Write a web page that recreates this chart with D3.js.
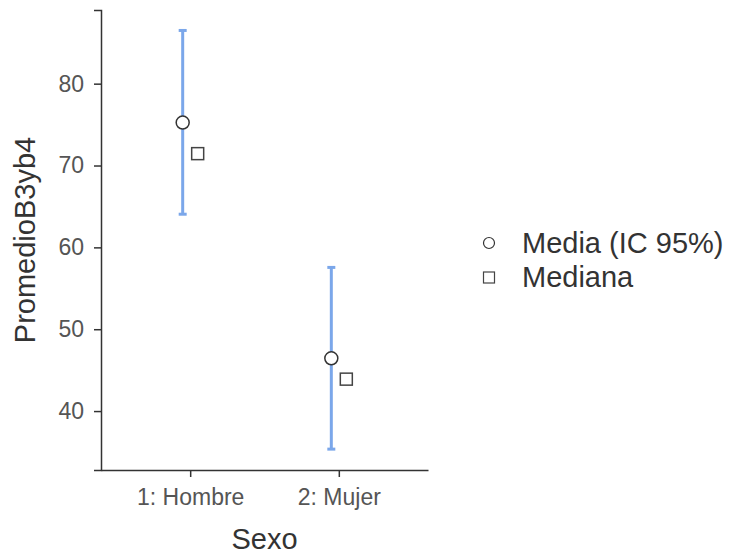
<!DOCTYPE html>
<html>
<head>
<meta charset="utf-8">
<script src="https://cdn.jsdelivr.net/npm/d3@7"></script>
<style>
  body { margin: 0; background: #fff; }
  text { font-family: "Liberation Sans", Arial, sans-serif; }
</style>
</head>
<body>
<script>
var w = 736, h = 554;

// data
var categories = ["1: Hombre", "2: Mujer"];
var means = [75.25, 46.45];
var lower = [64.05, 35.35];
var upper = [86.5, 57.55];
var medians = [71.45, 43.9];
var yTicks = [40, 50, 60, 70, 80];

var margin = {top: 10, left: 101},
    plotW = 327,
    plotH = 460;

var svg = d3.select("body").append("svg")
    .attr("width", w)
    .attr("height", h);

var chart = svg.append("g")
    .attr("transform", "translate(" + margin.left + "," + margin.top + ")");

var x = d3.scalePoint()
    .domain(categories)
    .range([0, plotW])
    .padding(0.6);

var y = d3.scaleLinear()
    .domain([32.8, 89])
    .range([plotH, 0]);

// y axis
var yAxis = chart.append("g")
    .call(d3.axisLeft(y).tickValues(yTicks).tickSize(7).tickPadding(10));
yAxis.select(".domain").attr("stroke", "#333").attr("stroke-width", 1.5);
yAxis.selectAll(".tick line").attr("stroke", "#333").attr("stroke-width", 1.5);
yAxis.selectAll(".tick text")
    .attr("fill", "#555")
    .style("font-size", "23px");

// x axis
var xAxis = chart.append("g")
    .attr("transform", "translate(0," + plotH + ")")
    .call(d3.axisBottom(x).tickSize(7).tickPadding(12).tickSizeOuter(0));
xAxis.select(".domain").attr("stroke", "#333").attr("stroke-width", 1.5);
xAxis.selectAll(".tick line").attr("stroke", "#333").attr("stroke-width", 1.5);
xAxis.selectAll(".tick text")
    .attr("fill", "#555")
    .style("font-size", "23px");

var rows = categories.map(function(c, i) {
  return {cat: c, mean: means[i], lo: lower[i], hi: upper[i], med: medians[i]};
});

var grp = chart.selectAll(".grp")
    .data(rows)
    .enter().append("g")
    .attr("class", "grp");

var off = 7.5;

// error bars
grp.append("line")
    .attr("x1", function(d) { return x(d.cat) - off; })
    .attr("x2", function(d) { return x(d.cat) - off; })
    .attr("y1", function(d) { return y(d.lo); })
    .attr("y2", function(d) { return y(d.hi); })
    .attr("stroke", "#7ba7ea")
    .attr("stroke-width", 3);

grp.selectAll(".cap")
    .data(function(d) { return [d.lo, d.hi].map(function(v) { return {cat: d.cat, v: v}; }); })
    .enter().append("line")
    .attr("class", "cap")
    .attr("x1", function(d) { return x(d.cat) - off - 4; })
    .attr("x2", function(d) { return x(d.cat) - off + 4; })
    .attr("y1", function(d) { return y(d.v); })
    .attr("y2", function(d) { return y(d.v); })
    .attr("stroke", "#7ba7ea")
    .attr("stroke-width", 3);

// means
grp.append("circle")
    .attr("cx", function(d) { return x(d.cat) - off; })
    .attr("cy", function(d) { return y(d.mean); })
    .attr("r", 6.5)
    .attr("fill", "#fff")
    .attr("stroke", "#333")
    .attr("stroke-width", 1.5);

// medians
grp.append("rect")
    .attr("x", function(d) { return x(d.cat) + off - 6; })
    .attr("y", function(d) { return y(d.med) - 6; })
    .attr("width", 12)
    .attr("height", 12)
    .attr("fill", "#fff")
    .attr("stroke", "#444")
    .attr("stroke-width", 1.5);

// axis titles
svg.append("text")
    .attr("x", margin.left + plotW / 2)
    .attr("y", 549)
    .attr("text-anchor", "middle")
    .attr("fill", "#333")
    .style("font-size", "29px")
    .text("Sexo");

svg.append("text")
    .attr("transform", "translate(35," + (margin.top + plotH / 2) + ") rotate(-90)")
    .attr("text-anchor", "middle")
    .attr("fill", "#333")
    .style("font-size", "29px")
    .text("PromedioB3yb4");

// legend
var legend = svg.append("g").attr("transform", "translate(489,243)");
legend.append("circle")
    .attr("r", 5.5)
    .attr("fill", "#fff")
    .attr("stroke", "#333")
    .attr("stroke-width", 1.2);
legend.append("text")
    .attr("x", 33)
    .attr("y", 10)
    .attr("fill", "#333")
    .style("font-size", "29px")
    .text("Media (IC 95%)");
legend.append("rect")
    .attr("x", -5.5)
    .attr("y", 29)
    .attr("width", 11)
    .attr("height", 11)
    .attr("fill", "#fff")
    .attr("stroke", "#444")
    .attr("stroke-width", 1.2);
legend.append("text")
    .attr("x", 33)
    .attr("y", 44)
    .attr("fill", "#333")
    .style("font-size", "29px")
    .text("Mediana");
</script>
</body>
</html>
